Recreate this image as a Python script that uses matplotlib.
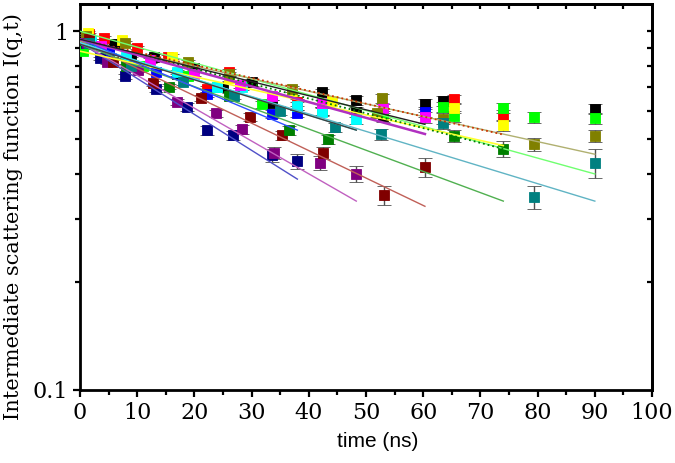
import numpy as np
import matplotlib
matplotlib.use("Agg")
import matplotlib.pyplot as plt
from matplotlib.ticker import FixedLocator, NullFormatter, LogLocator, MultipleLocator

# data: time (ns), I(q,t), error
t_black1 = [1.0, 6.0, 13.0, 20.0, 30.0, 42.3, 48.3, 60.3, 63.5, 90.0]
i_black1 = [0.97, 0.92, 0.85, 0.79, 0.72, 0.676, 0.642, 0.626, 0.638, 0.606]
e_black1 = [0.01, 0.01, 0.012, 0.012, 0.015, 0.015, 0.018, 0.02, 0.02, 0.02]

t_black2 = [2.0, 9.0, 17.0, 25.0, 33.5, 42.3, 48.3, 53.0]
i_black2 = [0.93, 0.84, 0.76, 0.70, 0.63, 0.60, 0.595, 0.58]
e_black2 = [0.01, 0.01, 0.012, 0.012, 0.015, 0.015, 0.018, 0.02]

t_red = [1.5, 4.2, 10.0, 15.4, 22.2, 26.0, 37.9, 65.4, 74.0]
i_red = [0.98, 0.96, 0.90, 0.846, 0.69, 0.77, 0.634, 0.646, 0.583]
e_red = [0.01, 0.01, 0.01, 0.012, 0.012, 0.015, 0.015, 0.02, 0.02]

t_lime = [0.5, 5.0, 11.0, 18.9, 24.0, 31.8, 42.3, 53.0, 63.5, 65.4, 74.0, 79.4, 90.0]
i_lime = [0.88, 0.86, 0.80, 0.75, 0.70, 0.626, 0.60, 0.59, 0.614, 0.58, 0.61, 0.576, 0.573]
e_lime = [0.01, 0.01, 0.01, 0.012, 0.012, 0.015, 0.015, 0.018, 0.02, 0.02, 0.02, 0.02, 0.02]

t_blue = [1.0, 5.0, 13.3, 22.2, 33.5, 37.9, 60.3]
i_blue = [0.95, 0.88, 0.77, 0.667, 0.587, 0.59, 0.595]
e_blue = [0.01, 0.01, 0.012, 0.012, 0.015, 0.015, 0.02]

t_cyan = [2.0, 8.0, 16.9, 24.0, 28.4, 37.9, 42.3, 48.3]
i_cyan = [0.94, 0.85, 0.77, 0.70, 0.70, 0.62, 0.595, 0.57]
e_cyan = [0.01, 0.01, 0.012, 0.012, 0.015, 0.015, 0.015, 0.018]

t_magenta = [1.0, 3.7, 12.2, 20.0, 28.0, 33.5, 42.3, 53.0, 60.3]
i_magenta = [0.96, 0.91, 0.83, 0.76, 0.71, 0.66, 0.63, 0.61, 0.576]
e_magenta = [0.01, 0.01, 0.012, 0.012, 0.015, 0.015, 0.015, 0.018, 0.02]

t_yellow = [1.4, 7.3, 16.0, 26.0, 37.0, 44.0, 65.4, 74.0]
i_yellow = [0.99, 0.944, 0.85, 0.74, 0.68, 0.64, 0.61, 0.547]
e_yellow = [0.01, 0.01, 0.012, 0.012, 0.015, 0.015, 0.02, 0.02]

t_olive = [1.0, 7.9, 18.9, 26.0, 37.0, 52.0, 52.8, 63.5, 79.4, 90.0]
i_olive = [0.97, 0.93, 0.82, 0.76, 0.69, 0.59, 0.65, 0.57, 0.485, 0.51]
e_olive = [0.01, 0.01, 0.012, 0.012, 0.015, 0.015, 0.018, 0.02, 0.02, 0.02]

t_navy = [1.0, 3.5, 7.9, 13.3, 18.7, 22.2, 26.7, 33.5, 37.9]
i_navy = [0.93, 0.84, 0.75, 0.69, 0.614, 0.53, 0.513, 0.451, 0.434]
e_navy = [0.01, 0.01, 0.012, 0.012, 0.015, 0.015, 0.015, 0.02, 0.022]

t_purple = [1.2, 4.7, 10.1, 16.9, 23.8, 28.4, 33.9, 42.0, 48.3]
i_purple = [0.93, 0.82, 0.78, 0.634, 0.59, 0.533, 0.457, 0.43, 0.40]
e_purple = [0.01, 0.01, 0.012, 0.012, 0.015, 0.015, 0.018, 0.02, 0.02]

t_maroon = [1.5, 5.8, 12.8, 21.2, 29.7, 35.3, 42.5, 53.1, 60.3]
i_maroon = [0.95, 0.82, 0.716, 0.65, 0.576, 0.513, 0.457, 0.349, 0.418]
e_maroon = [0.01, 0.01, 0.012, 0.012, 0.015, 0.015, 0.018, 0.022, 0.025]

t_green = [1.5, 8.0, 15.6, 26.0, 36.5, 43.4, 65.4, 74.0]
i_green = [0.93, 0.80, 0.70, 0.66, 0.53, 0.50, 0.51, 0.47]
e_green = [0.01, 0.01, 0.012, 0.012, 0.015, 0.015, 0.02, 0.025]

t_teal = [1.5, 9.0, 18.0, 27.0, 35.0, 44.6, 52.6, 63.5, 79.4, 90.0]
i_teal = [0.93, 0.80, 0.72, 0.66, 0.60, 0.54, 0.516, 0.554, 0.345, 0.43]
e_teal = [0.01, 0.01, 0.012, 0.012, 0.015, 0.015, 0.018, 0.02, 0.025, 0.04]

# fitted decays: value at t=0, end time, value at end
fit_names = ["navy", "purple", "maroon", "green", "teal", "lime", "olive", "yellow",
             "green_dot", "red_dot", "cyan", "blue", "magenta", "black1", "black2"]
fit_i0 = [0.93, 0.93, 0.94, 0.92, 0.92, 1.0, 0.94, 0.88, 0.95, 0.95, 0.93, 0.95, 0.95, 0.95, 0.92]
fit_tend = [38, 48.3, 60.3, 74, 90, 90, 90, 74, 74, 74, 48.3, 38, 60.3, 60.3, 48.3]
fit_iend = [0.387, 0.336, 0.325, 0.336, 0.336, 0.40, 0.454, 0.48, 0.47, 0.515, 0.53, 0.53, 0.517, 0.55, 0.53]

series = [
    (t_black1, i_black1, e_black1, "#000000"),
    (t_black2, i_black2, e_black2, "#000000"),
    (t_red, i_red, e_red, "#ff0000"),
    (t_lime, i_lime, e_lime, "#00ff00"),
    (t_blue, i_blue, e_blue, "#0000ff"),
    (t_cyan, i_cyan, e_cyan, "#00ffff"),
    (t_magenta, i_magenta, e_magenta, "#ff00ff"),
    (t_yellow, i_yellow, e_yellow, "#ffff00"),
    (t_olive, i_olive, e_olive, "#808000"),
    (t_navy, i_navy, e_navy, "#000080"),
    (t_purple, i_purple, e_purple, "#800080"),
    (t_maroon, i_maroon, e_maroon, "#800000"),
    (t_green, i_green, e_green, "#008000"),
    (t_teal, i_teal, e_teal, "#008080"),
]

fit_style = {
    "navy": ("#5050c8", "-", 1.0), "purple": ("#c060c0", "-", 1.0),
    "maroon": ("#c06058", "-", 1.0), "green": ("#50b050", "-", 1.0),
    "teal": ("#60b4c4", "-", 1.0), "lime": ("#70ff70", "-", 1.0),
    "olive": ("#b0b070", "-", 1.0), "yellow": ("#ffff30", "-", 1.2),
    "green_dot": ("#008000", ":", 1.3), "red_dot": ("#cc3300", ":", 1.3),
    "cyan": ("#40e8f0", "-", 1.0), "blue": ("#3050ff", "-", 1.0),
    "magenta": ("#b030c0", "-", 1.8), "black1": ("#202020", "-", 1.0),
    "black2": ("#404040", "-", 1.0),
}

fig = plt.figure(figsize=(6.75, 4.63), dpi=100)
ax = fig.add_axes([0.1185, 0.158, 0.8475, 0.833])

for t, v, e, c in series:
    ax.errorbar(t, v, yerr=e, fmt="s", color=c, ms=6.5, mec=c, mew=0.6,
                ecolor="#505050", elinewidth=1.0, capsize=5, capthick=1.1, zorder=3)

for k, name in enumerate(fit_names):
    col, ls, lw = fit_style[name]
    ax.plot([0, fit_tend[k]], [fit_i0[k], fit_iend[k]], color=col, ls=ls, lw=lw, zorder=4)

ax.set_yscale("log")
ax.set_xlim(0, 100)
ax.set_ylim(0.1, 1.19)

ax.xaxis.set_major_locator(MultipleLocator(10))
ax.xaxis.set_minor_locator(MultipleLocator(5))
ax.yaxis.set_major_locator(FixedLocator([0.1, 1]))
ax.set_yticklabels(["0.1", "1"])
ax.yaxis.set_minor_locator(LogLocator(base=10, subs=np.arange(2, 10)))
ax.yaxis.set_minor_formatter(NullFormatter())

ax.tick_params(which="both", direction="out", width=1.6, labelsize=16)
ax.tick_params(which="major", length=5)
ax.tick_params(which="minor", length=3.5)
for lab in ax.get_xticklabels() + ax.get_yticklabels():
    lab.set_family("DejaVu Serif")

top = ax.secondary_xaxis("top")
top.set_xticks(np.arange(5, 100, 5))
top.tick_params(direction="in", length=3.5, width=1.6, labeltop=False)
right = ax.secondary_yaxis("right")
right.yaxis.set_major_locator(FixedLocator([1]))
right.yaxis.set_minor_locator(LogLocator(base=10, subs=np.arange(2, 10)))
right.tick_params(which="both", direction="in", length=3.5, width=1.6, labelright=False)
right.yaxis.set_minor_formatter(NullFormatter())

for sp in list(ax.spines.values()) + [top.spines["top"], right.spines["right"]]:
    sp.set_linewidth(2)

ax.set_xlabel("time (ns)", family="Liberation Sans", fontsize=15)
ax.xaxis.set_label_coords(0.52, -0.11)
ax.set_ylabel("Intermediate scattering function I(q,t)", family="DejaVu Serif",
              fontsize=15)
ax.yaxis.set_label_coords(-0.1, 0.45)

fig.savefig("out.png", dpi=100)
